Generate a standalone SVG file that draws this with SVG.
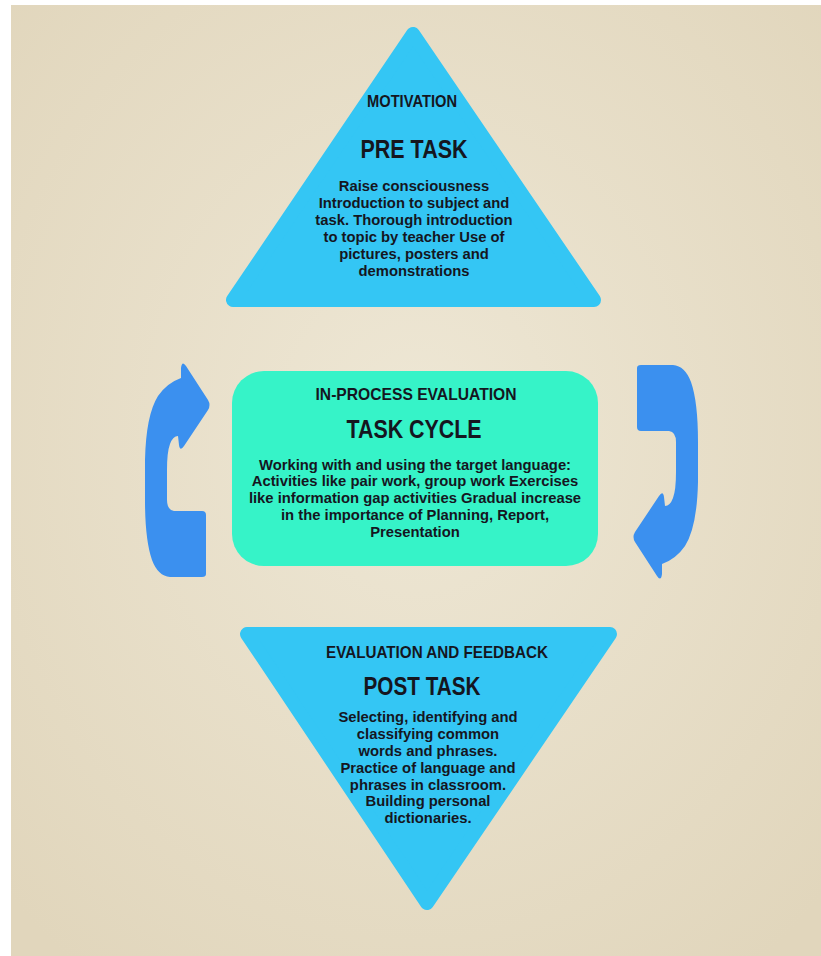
<svg xmlns="http://www.w3.org/2000/svg" width="821" height="956" viewBox="0 0 821 956">
<defs>
<radialGradient id="bg" cx="50%" cy="45%" r="70%">
<stop offset="0" stop-color="#eee7d5"/>
<stop offset="1" stop-color="#e1d6bc"/>
</radialGradient>
<path id="arrowL" d="M206 574 Q206 577 202 577 L170 577 Q158 576 152 560 Q145 540 145 500 L145 460 Q146 415 158 396 Q167 383 181 378 L181 368 Q182 360 186 366 L208 400 Q211 405 208 410 L184 446 Q180 452 179 445 L178 436 Q173 436 170 444 Q167 452 167 470 L167 500 Q167 510 174 511 L202 511 Q206 511 206 515 Z"/>
</defs>
<style>
.tri{fill:#34c6f4;stroke:#34c6f4;stroke-width:14;stroke-linejoin:round}
.arr{fill:#3b90ef}
.t{font-family:"Liberation Sans",Arial,sans-serif;font-weight:bold;fill:#15161f;text-anchor:middle}
.sub{font-size:17px}
.ttl{font-size:25px}
.body{font-size:14.8px}
</style>
<rect x="0" y="0" width="821" height="956" fill="#ffffff"/>
<rect x="11" y="5" width="810" height="951" fill="url(#bg)"/>
<g id="connectors">
<use href="#arrowL" class="arr"/>
<use href="#arrowL" class="arr" transform="rotate(180 421.5 471)"/>
</g>
<g id="pre-task">
<polygon class="tri" points="413,34 233,300 594,300"/>
<text class="t sub" x="412" y="107" textLength="90" lengthAdjust="spacingAndGlyphs">MOTIVATION</text>
<text class="t ttl" x="414" y="158" textLength="107" lengthAdjust="spacingAndGlyphs">PRE TASK</text>
<text class="t body" x="414" y="191">Raise consciousness</text>
<text class="t body" x="414" y="208">Introduction to subject and</text>
<text class="t body" x="414" y="225">task. Thorough introduction</text>
<text class="t body" x="414" y="242">to topic by teacher Use of</text>
<text class="t body" x="414" y="259">pictures, posters and</text>
<text class="t body" x="414" y="276">demonstrations</text>
</g>
<g id="task-cycle">
<rect x="232" y="371" width="366" height="195" rx="32" fill="#36f3c8"/>
<text class="t sub" x="416" y="400" textLength="201" lengthAdjust="spacingAndGlyphs">IN-PROCESS EVALUATION</text>
<text class="t ttl" x="414" y="438" textLength="135" lengthAdjust="spacingAndGlyphs">TASK CYCLE</text>
<text class="t body" x="415" y="470">Working with and using the target language:</text>
<text class="t body" x="415" y="486">Activities like pair work, group work Exercises</text>
<text class="t body" x="415" y="503">like information gap activities Gradual increase</text>
<text class="t body" x="415" y="520">in the importance of Planning, Report,</text>
<text class="t body" x="415" y="537">Presentation</text>
</g>
<g id="post-task">
<polygon class="tri" points="247,634 610,634 427,903"/>
<text class="t sub" x="437" y="658" textLength="222" lengthAdjust="spacingAndGlyphs">EVALUATION AND FEEDBACK</text>
<text class="t ttl" x="422" y="695" textLength="117" lengthAdjust="spacingAndGlyphs">POST TASK</text>
<text class="t body" x="428" y="722">Selecting, identifying and</text>
<text class="t body" x="428" y="739">classifying common</text>
<text class="t body" x="428" y="756">words and phrases.</text>
<text class="t body" x="428" y="773">Practice of language and</text>
<text class="t body" x="428" y="790">phrases in classroom.</text>
<text class="t body" x="428" y="806">Building personal</text>
<text class="t body" x="428" y="823">dictionaries.</text>
</g>
</svg>
